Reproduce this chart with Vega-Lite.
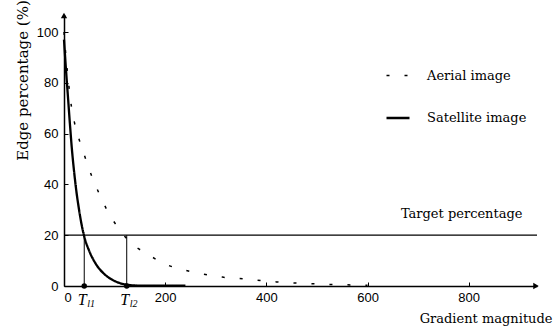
{
  "$schema": "https://vega.github.io/schema/vega-lite/v6.json",
  "width": 473,
  "height": 271,
  "autosize": "none",
  "padding": {"left": 64, "top": 15, "right": 18, "bottom": 45},
  "background": "white",
  "config": {
    "view": {"stroke": null},
    "axis": {"grid": false, "domainColor": "black", "tickColor": "black", "labelColor": "black", "titleColor": "black", "labelFont": "Liberation Sans", "labelFontSize": 13, "titleFont": "DejaVu Serif", "titleFontWeight": "normal", "domainWidth": 1.5, "tickWidth": 1}
  },
  "datasets": {
    "curves": [
      {"series": "Aerial image", "g": 0, "pct": 100},
      {"series": "Aerial image", "g": 4, "pct": 90},
      {"series": "Aerial image", "g": 8.5, "pct": 81},
      {"series": "Aerial image", "g": 13, "pct": 73},
      {"series": "Aerial image", "g": 20, "pct": 65},
      {"series": "Aerial image", "g": 31, "pct": 57},
      {"series": "Aerial image", "g": 42, "pct": 50.5},
      {"series": "Aerial image", "g": 54, "pct": 43.7},
      {"series": "Aerial image", "g": 69, "pct": 36.6},
      {"series": "Aerial image", "g": 86, "pct": 29.5},
      {"series": "Aerial image", "g": 107, "pct": 23},
      {"series": "Aerial image", "g": 132, "pct": 17},
      {"series": "Aerial image", "g": 163, "pct": 12.8},
      {"series": "Aerial image", "g": 204, "pct": 8.3},
      {"series": "Aerial image", "g": 240, "pct": 6.2},
      {"series": "Aerial image", "g": 275, "pct": 4.7},
      {"series": "Aerial image", "g": 313, "pct": 3.5},
      {"series": "Aerial image", "g": 354, "pct": 2.8},
      {"series": "Aerial image", "g": 420, "pct": 1.6},
      {"series": "Aerial image", "g": 500, "pct": 0.8},
      {"series": "Aerial image", "g": 600, "pct": 0.3},
      {"series": "Satellite image", "g": 0, "pct": 97},
      {"series": "Satellite image", "g": 4, "pct": 85},
      {"series": "Satellite image", "g": 8, "pct": 74},
      {"series": "Satellite image", "g": 12, "pct": 63},
      {"series": "Satellite image", "g": 16, "pct": 53},
      {"series": "Satellite image", "g": 20, "pct": 45},
      {"series": "Satellite image", "g": 24, "pct": 38},
      {"series": "Satellite image", "g": 29, "pct": 31},
      {"series": "Satellite image", "g": 34, "pct": 25},
      {"series": "Satellite image", "g": 40, "pct": 19.5},
      {"series": "Satellite image", "g": 49, "pct": 14.2},
      {"series": "Satellite image", "g": 62, "pct": 9},
      {"series": "Satellite image", "g": 82, "pct": 4.3},
      {"series": "Satellite image", "g": 102, "pct": 1.8},
      {"series": "Satellite image", "g": 125, "pct": 0.5},
      {"series": "Satellite image", "g": 151, "pct": 0.15},
      {"series": "Satellite image", "g": 240, "pct": 0.1}
    ],
    "thresholds": [
      {"t": "l1", "g": 40, "low": 0, "target": 20},
      {"t": "l2", "g": 124, "low": 0, "target": 20}
    ],
    "target": [{"g": 0, "g2": 935, "pct": 20, "labelG": 666, "labelPct": 28.5, "label": "Target percentage"}],
    "arrows": [
      {"g": 0, "pct": 106.5, "shape": "triangle-up"},
      {"g": 933, "pct": 0, "shape": "triangle-right"}
    ]
  },
  "layer": [
    {
      "data": {"name": "target"},
      "mark": {"type": "rule", "color": "black", "strokeWidth": 1.3},
      "encoding": {
        "x": {"field": "g", "type": "quantitative", "scale": {"domain": [0, 935], "nice": false}, "axis": {"values": [0, 200, 400, 600, 800], "tickSize": -4, "labelPadding": 9, "title": "Gradient magnitude", "titleFontSize": 13, "titleAlign": "right", "titleAnchor": "end", "titleX": 488, "titleY": 32, "titleBaseline": "middle"}},
        "x2": {"field": "g2"},
        "y": {"field": "pct", "type": "quantitative", "scale": {"domain": [0, 106.7], "nice": false}, "axis": {"values": [0, 20, 40, 60, 80, 100], "tickSize": -4, "labelPadding": 10, "title": "Edge percentage (%)", "titleFontSize": 15, "titleX": -42, "titleY": 65, "titleAngle": -90, "titleAlign": "center", "titleBaseline": "middle"}}
      }
    },
    {
      "data": {"name": "target"},
      "mark": {"type": "text", "font": "DejaVu Serif", "fontSize": 13, "align": "left", "baseline": "middle", "color": "black"},
      "encoding": {
        "x": {"field": "labelG", "type": "quantitative"},
        "y": {"field": "labelPct", "type": "quantitative"},
        "text": {"field": "label"}
      }
    },
    {
      "data": {"name": "thresholds"},
      "mark": {"type": "rule", "color": "black", "strokeWidth": 1},
      "encoding": {
        "x": {"field": "g", "type": "quantitative"},
        "y": {"field": "low", "type": "quantitative"},
        "y2": {"field": "target"}
      }
    },
    {
      "data": {"name": "thresholds"},
      "mark": {"type": "point", "filled": true, "color": "black", "size": 30, "opacity": 1},
      "encoding": {
        "x": {"field": "g", "type": "quantitative"},
        "y": {"field": "low", "type": "quantitative"}
      }
    },
    {
      "data": {"name": "thresholds"},
      "mark": {"type": "text", "font": "Liberation Serif", "fontStyle": "italic", "fontSize": 16, "align": "center", "baseline": "middle", "dy": 14, "dx": -2, "color": "black"},
      "encoding": {
        "x": {"field": "g", "type": "quantitative"},
        "y": {"field": "low", "type": "quantitative"},
        "text": {"value": "T"}
      }
    },
    {
      "data": {"name": "thresholds"},
      "mark": {"type": "text", "font": "Liberation Serif", "fontStyle": "italic", "fontSize": 10, "align": "left", "baseline": "middle", "dy": 18, "dx": 3, "color": "black"},
      "encoding": {
        "x": {"field": "g", "type": "quantitative"},
        "y": {"field": "low", "type": "quantitative"},
        "text": {"field": "t"}
      }
    },
    {
      "data": {"name": "curves"},
      "mark": {"type": "line", "color": "black", "interpolate": "monotone"},
      "encoding": {
        "x": {"field": "g", "type": "quantitative"},
        "y": {"field": "pct", "type": "quantitative"},
        "strokeDash": {"field": "series", "type": "nominal", "scale": {"domain": ["Aerial image", "Satellite image"], "range": [[3, 15], [1, 0]]}, "legend": {"title": null, "orient": "none", "legendX": 321, "legendY": 48, "symbolType": "stroke", "symbolSize": 529, "symbolStrokeColor": "black", "labelFont": "DejaVu Serif", "labelFontSize": 13, "labelOffset": 16, "rowPadding": 22, "labelColor": "black"}},
        "strokeWidth": {"field": "series", "type": "nominal", "scale": {"domain": ["Aerial image", "Satellite image"], "range": [1.5, 2.3]}, "legend": {"title": null, "orient": "none", "legendX": 321, "legendY": 48, "symbolType": "stroke", "symbolSize": 529, "symbolStrokeColor": "black", "labelFont": "DejaVu Serif", "labelFontSize": 13, "labelOffset": 16, "rowPadding": 22, "labelColor": "black"}}
      }
    },
    {
      "data": {"name": "arrows"},
      "mark": {"type": "point", "filled": true, "color": "black", "size": 40, "opacity": 1},
      "encoding": {
        "x": {"field": "g", "type": "quantitative"},
        "y": {"field": "pct", "type": "quantitative"},
        "shape": {"field": "shape", "type": "nominal", "scale": {"domain": ["triangle-up", "triangle-right"], "range": ["triangle-up", "triangle-right"]}, "legend": null}
      }
    }
  ]
}
